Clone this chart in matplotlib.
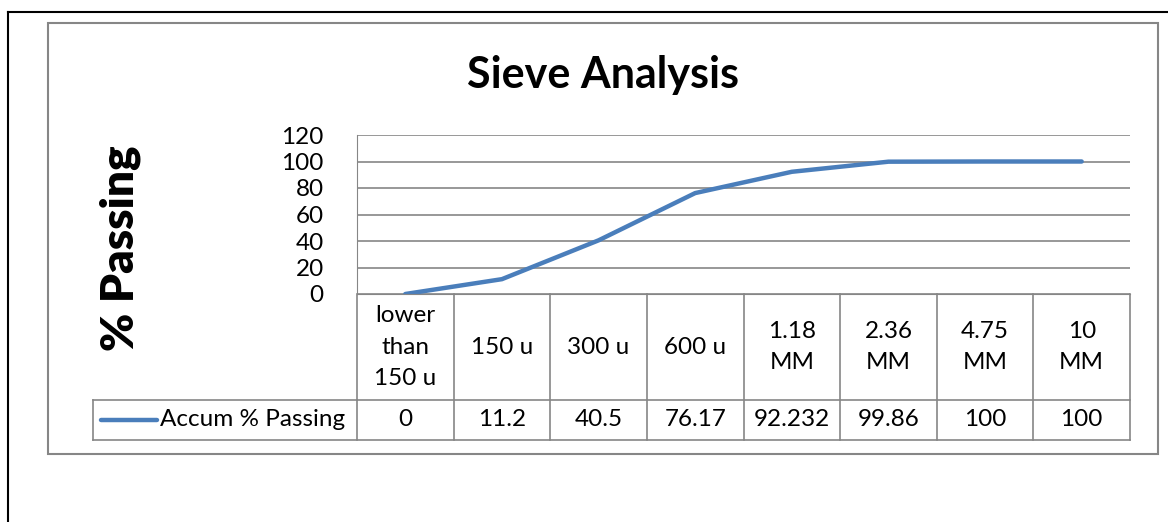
import matplotlib
matplotlib.use("Agg")
import matplotlib.pyplot as plt
from matplotlib.lines import Line2D
from matplotlib.patches import Rectangle

categories = ["lower\nthan\n150 u", "150 u", "300 u", "600 u",
              "1.18\nMM", "2.36\nMM", "4.75\nMM", "10\nMM"]
value_labels = ["0", "11.2", "40.5", "76.17", "92.232", "99.86", "100", "100"]
passing = [0, 11.2, 40.5, 76.17, 92.232, 99.86, 100, 100]
series_name = "Accum % Passing"
yticks = [0, 20, 40, 60, 80, 100, 120]

W, H = 1168, 522
LINE_BLUE = "#4A7EBB"
GRID = "#868686"
FONT = "Lato"
FS = 17.5


def fx(px):
    return px / W


def fy(py):
    return 1 - py / H


fig = plt.figure(figsize=(W / 100, H / 100), dpi=100)

# outer black frame (left/top only visible) and grey chart frame
fig.add_artist(Line2D([fx(8), fx(8)], [fy(12), 0], color="black", lw=1.5))
fig.add_artist(Line2D([fx(8), 1], [fy(12), fy(12)], color="black", lw=1.5))
fig.add_artist(Rectangle((fx(48), fy(454)), fx(1158) - fx(48), fy(23) - fy(454),
                         transform=fig.transFigure, fill=False,
                         edgecolor=GRID, lw=1.5))

# plot area
left, right, top, bottom = 357, 1130, 135, 294
ax = fig.add_axes([fx(left), fy(bottom), fx(right) - fx(left), fy(top) - fy(bottom)])
x = list(range(len(categories)))
ax.plot(x, passing, color=LINE_BLUE, lw=3.2, solid_capstyle="round")
ax.set_xlim(-0.5, len(categories) - 0.5)
ax.set_ylim(0, 120)
ax.set_yticks(yticks)
ax.set_yticklabels([str(t) for t in yticks], family=FONT, fontsize=FS)
ax.tick_params(axis="y", length=0, pad=24)
ax.set_xticks([])
for t in yticks:
    ax.axhline(t, color=GRID, lw=1.2, zorder=0)
for s in ("top", "right"):
    ax.spines[s].set_visible(False)
ax.spines["left"].set_color(GRID)
ax.spines["bottom"].set_color(GRID)

# data table under the axis
ph = bottom - top
row1 = -(400 - bottom) / ph
row2 = -(440 - bottom) / ph
legend_left = -0.5 + (93 - left) / ((right - left) / len(categories))
kw = dict(color=GRID, lw=1.2, clip_on=False, transform=ax.get_xaxis_transform())
for b in range(len(categories) + 1):
    ax.add_line(Line2D([b - 0.5, b - 0.5], [0, row2], **kw))
ax.add_line(Line2D([-0.5, len(categories) - 0.5], [row1, row1], **kw))
ax.add_line(Line2D([legend_left, len(categories) - 0.5], [row2, row2], **kw))
ax.add_line(Line2D([legend_left, -0.5], [row1, row1], **kw))
ax.add_line(Line2D([legend_left, legend_left], [row1, row2], **kw))

xt = ax.get_xaxis_transform()
for i, (cat, val) in enumerate(zip(categories, value_labels)):
    ax.text(i, row1 / 2, cat, transform=xt, ha="center", va="center",
            family=FONT, fontsize=FS, linespacing=1.6)
    ax.text(i, (row1 + row2) / 2, val, transform=xt, ha="center", va="center",
            family=FONT, fontsize=FS)

# legend key inside the table
ax.add_line(Line2D([legend_left + 0.08, legend_left + 0.66],
                   [(row1 + row2) / 2] * 2, color=LINE_BLUE, lw=3.2,
                   solid_capstyle="round", clip_on=False, transform=xt))
ax.text(legend_left + 0.69, (row1 + row2) / 2, series_name, transform=xt,
        ha="left", va="center", family=FONT, fontsize=FS)

fig.text(fx(603), fy(75), "Sieve Analysis", ha="center", va="center",
         family=FONT, fontsize=31, fontweight="bold")
fig.text(fx(120), fy(248), "% Passing", ha="center", va="center",
         rotation=90, family=FONT, fontsize=33, fontweight="heavy")

fig.savefig("out.png", dpi=100, facecolor="white")
